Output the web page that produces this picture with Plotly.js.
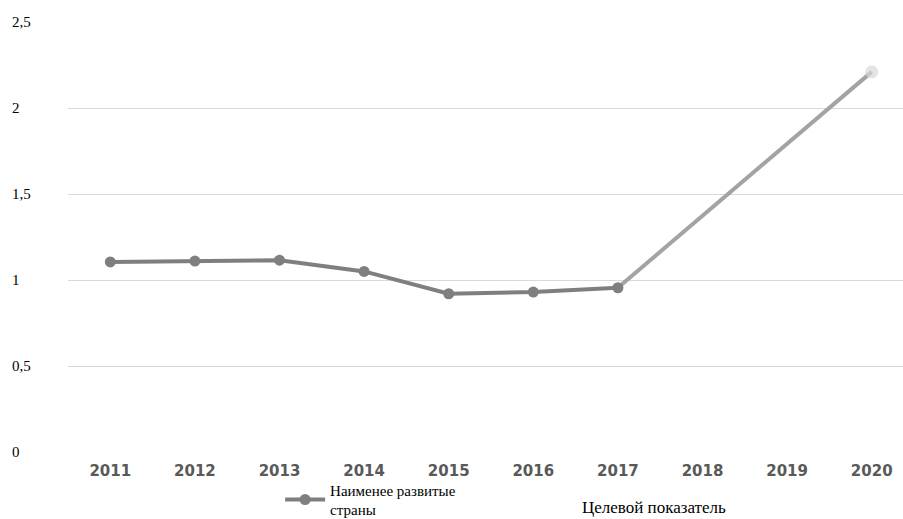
<!DOCTYPE html>
<html><head><meta charset="utf-8">
<script src="https://cdn.plot.ly/plotly-3.0.1.min.js"></script>
<style>body{margin:0;padding:0;background:#fff}#chart{width:903px;height:519px}</style>
</head><body><div id="chart"></div>
<script>
const years = ['2011','2012','2013','2014','2015','2016','2017','2018','2019','2020'];
const ldcYears = ['2011','2012','2013','2014','2015','2016','2017'];
const ldcValues = [1.105, 1.11, 1.115, 1.05, 0.92, 0.93, 0.955];
const targetYears = ['2017','2020'];
const targetValues = [0.955, 2.21];
const yTicks = [0, 0.5, 1, 1.5, 2, 2.5];
const yTickLabels = ['0','0,5','1','1,5','2','2,5'];
const seriesNames = ['Наименее развитые<br>страны', 'Целевой показатель'];
const dataLabels = [{x:'2011', y:1.105, text:'1,11'}, {x:'2020', y:2.21, text:'2,21'}];

const serif = '"Liberation Serif", "Times New Roman", Times, serif';

const traces = [
  {x: targetYears, y: targetValues, type:'scatter', mode:'lines+markers', name: seriesNames[1],
   showlegend:false,
   line:{color:'#a3a3a3', width:4},
   marker:{color:['rgba(0,0,0,0)','#d9d9d9'], size:[0,13], line:{width:0}}},
  {x: ldcYears, y: ldcValues, type:'scatter', mode:'lines+markers', name: seriesNames[0],
   line:{color:'#7f7f7f', width:4},
   marker:{color:'#7f7f7f', size:11}}
];

const annotations = [];
yTicks.forEach((v,i)=>annotations.push({xref:'paper', yref:'y', x:-0.069, y:v, xanchor:'left', yanchor:'middle',
  text:yTickLabels[i], showarrow:false, font:{family:serif, size:15, color:'#000'}}));
annotations.push({xref:'x', yref:'y', x:dataLabels[0].x, y:dataLabels[0].y, yshift:36, xanchor:'center', yanchor:'middle',
  text:dataLabels[0].text, showarrow:false, font:{family:serif, size:16, color:'#000'}});
annotations.push({xref:'x', yref:'y', x:dataLabels[1].x, y:dataLabels[1].y, xshift:-38, yshift:4, xanchor:'center', yanchor:'middle',
  text:dataLabels[1].text, showarrow:false, font:{family:serif, size:16, color:'#000'}});
annotations.push({xref:'paper', yref:'paper', x:(580-68)/835, y:-55/430, xanchor:'left', yanchor:'middle',
  text:seriesNames[1], showarrow:false, font:{family:serif, size:17, color:'#000'}});

const layout = {
  width:903, height:519,
  margin:{l:68, r:0, t:22, b:67, autoexpand:false},
  paper_bgcolor:'#fff', plot_bgcolor:'#fff',
  showlegend:true,
  legend:{orientation:'h', x:0.254, y:-0.05, xanchor:'left', yanchor:'top', bgcolor:'rgba(0,0,0,0)',
    font:{family:serif, size:15, color:'#000'}, itemwidth:40, tracegroupgap:0},
  xaxis:{type:'category', categoryorder:'array', categoryarray:years, range:[-0.5, 9.37],
    showgrid:false, zeroline:false, showline:false, ticks:'', ticklabelstandoff:8,
    tickfont:{family:'"DejaVu Sans", sans-serif', size:15, color:'#595959', weight:600}},
  yaxis:{range:[0,2.5], tickvals:yTicks, showticklabels:false, showgrid:true, gridcolor:'#d9d9d9', gridwidth:1,
    zeroline:false, showline:false, ticks:''},
  annotations: annotations
};
Plotly.newPlot('chart', traces, layout, {displayModeBar:false, staticPlot:true});
</script></body></html>
